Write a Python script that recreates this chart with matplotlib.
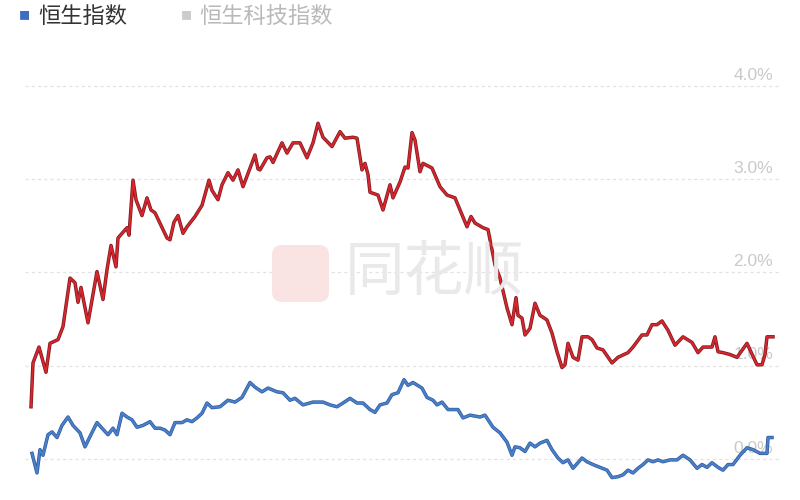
import matplotlib
matplotlib.use('Agg')
import matplotlib.pyplot as plt
import matplotlib.patheffects as pe
from matplotlib.patches import FancyBboxPatch
from matplotlib.transforms import blended_transform_factory

plt.rcParams['font.family'] = ['Noto Sans CJK SC', 'DejaVu Sans']

# 时间步 / 涨跌幅(%)
red_t = [0, 2, 8, 15, 19, 27, 32, 39, 44, 47, 50, 57, 66, 72, 76, 80, 85, 87, 96, 98,
         102, 105, 111, 116, 120, 124, 136, 139, 143, 147, 152, 156, 164, 171, 178, 181,
         187, 191, 197, 202, 207, 212, 219, 224, 227, 229, 236, 239, 242, 251, 256, 262,
         269, 276, 282, 287, 292, 301, 309, 314, 322, 326, 331, 334, 337, 339, 347, 352,
         359, 362, 369, 374, 377, 381, 384, 389, 392, 401, 409, 416, 424, 429, 436, 440,
         444, 452, 457, 464, 469, 476, 481, 485, 487, 491, 494, 499, 504, 509, 512, 516,
         521, 526, 531, 534, 537, 542, 547, 551, 557, 561, 566, 572, 581, 587, 597, 602,
         611, 616, 621, 626, 631, 637, 644, 652, 661, 667, 672, 681, 684, 687, 692, 699,
         706, 716, 719, 726, 731, 734, 736, 742]
red_v = [0.56, 1.03, 1.20, 0.93, 1.24, 1.28, 1.42, 1.94, 1.89, 1.68, 1.84, 1.46, 2.01,
         1.71, 2.03, 2.29, 2.06, 2.37, 2.48, 2.40, 2.99, 2.78, 2.61, 2.80, 2.67, 2.64,
         2.37, 2.35, 2.54, 2.61, 2.42, 2.49, 2.60, 2.72, 2.99, 2.88, 2.78, 2.94, 3.07,
         2.99, 3.10, 2.92, 3.12, 3.26, 3.11, 3.10, 3.23, 3.24, 3.18, 3.39, 3.28, 3.39,
         3.39, 3.23, 3.39, 3.60, 3.45, 3.35, 3.51, 3.44, 3.45, 3.44, 3.10, 3.17, 3.05,
         2.86, 2.83, 2.67, 2.94, 2.80, 2.97, 3.13, 3.12, 3.50, 3.42, 3.08, 3.17, 3.12,
         2.92, 2.83, 2.80, 2.67, 2.49, 2.60, 2.53, 2.48, 2.46, 2.08, 1.94, 1.62, 1.44,
         1.73, 1.54, 1.51, 1.33, 1.40, 1.67, 1.54, 1.52, 1.49, 1.35, 1.15, 0.98, 1.01,
         1.24, 1.09, 1.06, 1.31, 1.31, 1.28, 1.19, 1.17, 1.03, 1.09, 1.14, 1.20, 1.33,
         1.33, 1.44, 1.44, 1.48, 1.38, 1.22, 1.31, 1.25, 1.14, 1.20, 1.20, 1.31, 1.15,
         1.14, 1.12, 1.09, 1.24, 1.17, 1.01, 1.01, 1.12, 1.31, 1.31]

blue_t = [1, 6, 9, 12, 17, 21, 26, 31, 37, 42, 49, 54, 59, 66, 71, 77, 82, 86, 91, 96,
          101, 106, 112, 119, 124, 129, 134, 139, 144, 151, 156, 161, 166, 171, 176, 181,
          189, 197, 204, 211, 219, 224, 231, 237, 246, 252, 259, 264, 272, 282, 292, 299,
          306, 312, 319, 326, 332, 339, 344, 349, 356, 361, 367, 373, 377, 382, 391, 396,
          402, 406, 411, 417, 427, 432, 439, 449, 454, 462, 469, 476, 481, 484, 489, 494,
          499, 504, 509, 516, 521, 527, 532, 537, 542, 551, 556, 562, 569, 576, 581, 587,
          592, 597, 602, 607, 612, 617, 622, 627, 632, 639, 646, 652, 659, 666, 671, 676,
          681, 687, 692, 697, 702, 709, 716, 722, 729, 736, 737, 741]
blue_v = [0.06, -0.15, 0.10, 0.04, 0.26, 0.29, 0.23, 0.36, 0.45, 0.36, 0.28, 0.13, 0.24,
          0.39, 0.33, 0.26, 0.33, 0.26, 0.49, 0.45, 0.42, 0.34, 0.36, 0.40, 0.33, 0.33,
          0.31, 0.26, 0.39, 0.39, 0.42, 0.40, 0.44, 0.49, 0.60, 0.55, 0.56, 0.63, 0.61,
          0.66, 0.82, 0.77, 0.72, 0.76, 0.72, 0.71, 0.63, 0.65, 0.58, 0.61, 0.61, 0.58,
          0.56, 0.60, 0.65, 0.60, 0.60, 0.53, 0.50, 0.58, 0.60, 0.69, 0.71, 0.85, 0.79,
          0.82, 0.76, 0.66, 0.63, 0.58, 0.61, 0.53, 0.53, 0.44, 0.47, 0.45, 0.47, 0.34,
          0.28, 0.18, 0.04, 0.13, 0.12, 0.08, 0.17, 0.13, 0.17, 0.20, 0.10, 0.01, -0.04,
          -0.01, -0.10, 0.01, -0.03, -0.06, -0.09, -0.12, -0.20, -0.19, -0.17, -0.12,
          -0.15, -0.10, -0.06, -0.01, -0.03, -0.01, -0.03, -0.01, -0.01, 0.04, -0.01,
          -0.10, -0.06, -0.09, -0.04, -0.09, -0.12, -0.06, -0.06, 0.04, 0.12, 0.10, 0.06,
          0.06, 0.23, 0.23]

grid_vals = [0.0, 1.0, 2.0, 3.0, 4.0]
legend_names = ['恒生指数', '恒生科技指数']

fig = plt.figure(figsize=(8, 5), dpi=100)
ax = fig.add_axes([0.03125, 0.0168, 0.94375, 0.8672])
ax.set_xlim(-6, 749)
ax.set_ylim(-0.35, 4.3)
ax.axis('off')

# 水印
logo = FancyBboxPatch((272, 198), 57, 57, boxstyle='round,pad=0,rounding_size=10',
                      transform=None, facecolor='#fae3e3', edgecolor='none', zorder=0)
fig.patches.append(logo)
fig.text(345 / 800, 1 - 273 / 500, '同花顺', fontsize=43, color='#e9e9e9',
         va='center', ha='left', zorder=0)

tr = blended_transform_factory(ax.transAxes, ax.transData)
for v in grid_vals:
    ax.axhline(v, color='#e2e2e2', lw=0.9, ls=(0, (2.5, 2.5)), zorder=1)
    ax.text(0.9907, v + 0.035, f'{v:.1f}%', transform=tr, ha='right', va='bottom',
            fontsize=12.5, color='#c9c9c9', family='Liberation Sans', zorder=1)

ax.plot(red_t, red_v, color='#d8262e', lw=1.4, zorder=3,
        path_effects=[pe.Stroke(linewidth=2.5, foreground='#7d1b1f'), pe.Normal()])
ax.plot(blue_t, blue_v, color='#4a7fcc', lw=1.5, zorder=3,
        path_effects=[pe.Stroke(linewidth=2.5, foreground='#2f5a9a'), pe.Normal()])

# 图例
fig.text(24 / 800, 1 - 16 / 500, '■', fontsize=8, color='#3a6fc4', va='center', ha='center')
fig.text(38 / 800, 1 - 16 / 500, legend_names[0], fontsize=16, color='#333333', va='center')
fig.text(186 / 800, 1 - 16 / 500, '■', fontsize=8, color='#cccccc', va='center', ha='center')
fig.text(199 / 800, 1 - 16 / 500, legend_names[1], fontsize=16, color='#b9b9b9', va='center')

fig.savefig('out.png', dpi=100, facecolor='white')
